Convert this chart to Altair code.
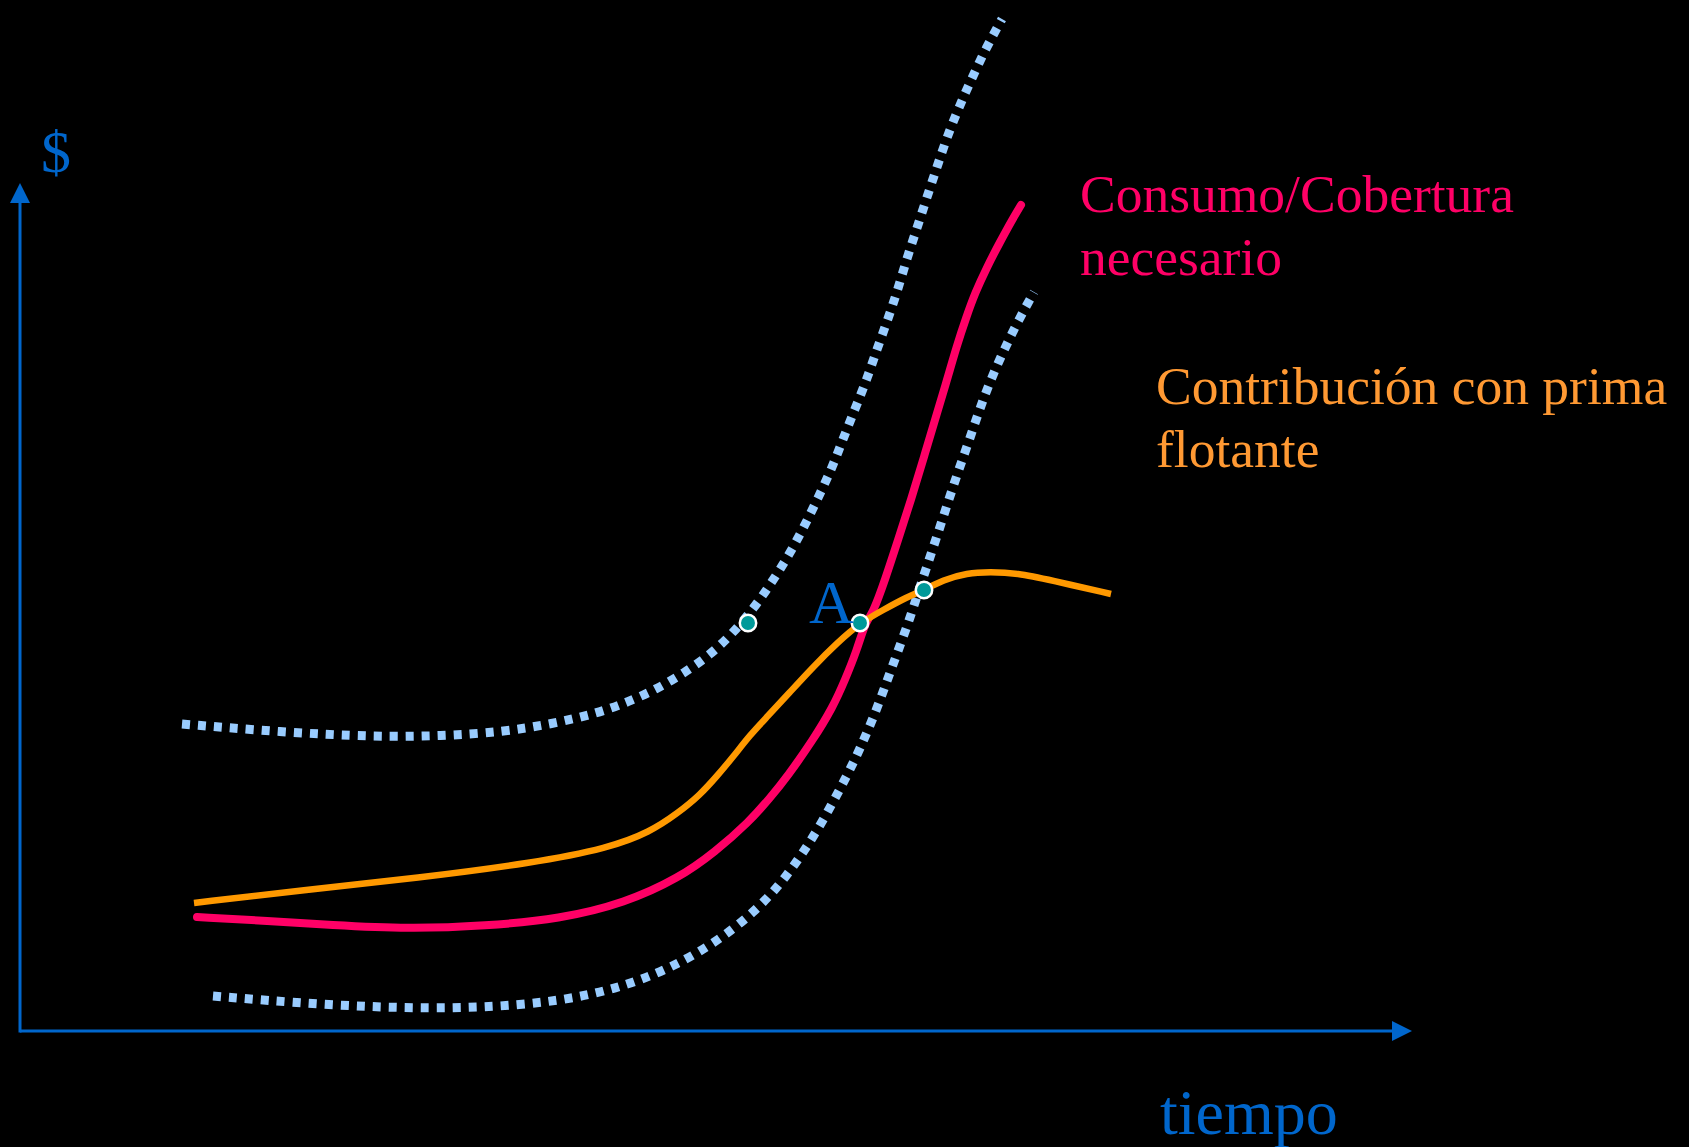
import altair as alt
import pandas as pd

# Curves sampled in chart units: tiempo (x) and $ (y); the axes cross at (0, 0).
upper_t = [16.2, 26.0, 35.6, 42.1, 48.2, 53.2, 57.8, 60.8, 63.7, 66.4, 69.0, 71.3,
           73.4, 75.2, 76.9, 78.4, 79.8, 81.2, 82.3, 83.5, 84.7, 85.7, 86.8, 87.8,
           88.7, 89.7, 90.7, 91.7, 92.7, 93.9, 95.2, 96.6, 98.2]
upper_v = [30.7, 29.9, 29.4, 29.5, 29.9, 30.7, 31.8, 32.9, 34.2, 35.8, 37.6, 39.8,
           42.3, 44.9, 47.6, 50.4, 53.3, 56.3, 59.2, 62.2, 65.2, 68.2, 71.2, 74.2,
           77.3, 80.3, 83.4, 86.4, 89.4, 92.4, 95.3, 98.3, 101.2]

lower_t = [19.3, 30.3, 41.1, 49.7, 57.2, 63.7, 69.1, 73.4, 76.6, 79.9, 83.0, 84.3,
           85.6, 86.7, 87.8, 88.9, 89.9, 90.9, 91.9, 92.9, 93.9, 95.0, 96.0, 97.1,
           98.4, 99.8, 101.4]
lower_v = [3.5, 2.6, 2.2, 2.5, 3.5, 5.6, 8.5, 11.8, 15.3, 20.2, 26.1, 28.9,
           32.0, 35.0, 38.0, 41.0, 44.1, 47.1, 50.1, 53.2, 56.2, 59.3, 62.3, 65.2,
           68.1, 71.0, 73.9]

consumo_t = [17.7, 24.9, 31.0, 38.9, 46.5, 54.0, 60.5, 65.9, 69.5, 72.9, 75.0, 76.7,
             79.3, 81.3, 82.5, 83.7, 84.5, 85.3, 86.5, 87.8, 89.1, 90.4, 91.7, 92.7,
             93.7, 94.6, 95.5, 96.7, 98.0, 99.2, 100.1]
consumo_v = [11.4, 11.0, 10.6, 10.2, 10.5, 11.2, 12.8, 15.3, 17.9, 20.9, 23.3, 25.4,
             29.1, 32.4, 35.1, 38.1, 40.8, 41.8, 45.1, 49.1, 53.1, 57.4, 61.8, 65.1,
             68.6, 71.3, 73.8, 76.4, 78.9, 81.1, 82.6]

contrib_t = [17.4, 28.3, 39.8, 51.3, 58.9, 63.0, 65.8, 68.0, 69.7, 71.3, 73.0, 74.7,
             77.0, 79.3, 81.7, 84.0, 86.3, 88.7, 90.4, 92.3, 94.7, 97.0, 99.7, 103.0,
             109.1]
contrib_v = [12.8, 14.1, 15.3, 16.8, 18.3, 19.9, 21.8, 23.6, 25.5, 27.4, 29.6, 31.4,
             33.9, 36.4, 38.8, 40.8, 42.1, 43.4, 44.1, 45.1, 45.8, 45.9, 45.8, 45.1,
             43.7]

# Marked crossings
cross_t = [72.8, 84.0, 90.4]
cross_v = [40.8, 40.8, 44.1]

# Axis lengths (to the arrow tips)
axis_t_end = 139.2
axis_v_end = 84.8
head_len = 2.0

# Text labels
label_text = ["$", "tiempo", "A", "Consumo/Cobertura", "necesario",
              "Contribución con prima", "flotante"]
label_t = [2.1, 114.0, 78.9, 106.0, 106.0, 113.6, 113.6]
label_v = [85.9, -10.3, 40.8, 81.9, 75.6, 62.7, 56.4]
label_size = [60, 64, 62, 53.5, 53.5, 53.5, 53.5]
label_color = ["#0066CC", "#0066CC", "#0066CC", "#FF0066", "#FF0066",
               "#FF9933", "#FF9933"]

BLUE = "#0066CC"
X = alt.Scale(domain=[-2.0, 166.9], nice=False, zero=False)
Y = alt.Scale(domain=[-11.6, 103.1], nice=False, zero=False)


def curve_df(ts, vs):
    return pd.DataFrame({"t": ts, "v": vs, "i": list(range(len(ts)))})


def curve_layer(ts, vs, **mark):
    return alt.Chart(curve_df(ts, vs)).mark_line(interpolate="basis", **mark).encode(
        x=alt.X("t:Q", scale=X, axis=None),
        y=alt.Y("v:Q", scale=Y, axis=None),
        order="i:Q",
    )


upper = curve_layer(upper_t, upper_v, color="#99CCFF", strokeWidth=9,
                    strokeDash=[8, 8], strokeCap="butt")
lower = curve_layer(lower_t, lower_v, color="#99CCFF", strokeWidth=9,
                    strokeDash=[8, 8], strokeCap="butt")
consumo = curve_layer(consumo_t, consumo_v, color="#FF0066", strokeWidth=8,
                      strokeCap="round")
contrib = curve_layer(contrib_t, contrib_v, color="#FF9900", strokeWidth=6.5,
                      strokeCap="butt")

# Axes: two rules ending at the base of their arrowheads
axis_df = pd.DataFrame({
    "t": [0.0, 0.0],
    "t2": [axis_t_end - head_len, 0.0],
    "v": [0.0, -0.15],
    "v2": [0.0, axis_v_end - head_len],
})
axes = alt.Chart(axis_df).mark_rule(color=BLUE, strokeWidth=3).encode(
    x=alt.X("t:Q", scale=X, axis=None),
    x2="t2:Q",
    y=alt.Y("v:Q", scale=Y, axis=None),
    y2="v2:Q",
)

head_x = alt.Chart(pd.DataFrame({"t": [axis_t_end], "v": [0.0]})).mark_point(
    shape="M-2,-1L0,0L-2,1Z", size=400, filled=True, color=BLUE, opacity=1,
    strokeWidth=0,
).encode(x=alt.X("t:Q", scale=X, axis=None), y=alt.Y("v:Q", scale=Y, axis=None))

head_y = alt.Chart(pd.DataFrame({"t": [0.0], "v": [axis_v_end]})).mark_point(
    shape="M-1,2L0,0L1,2Z", size=400, filled=True, color=BLUE, opacity=1,
    strokeWidth=0,
).encode(x=alt.X("t:Q", scale=X, axis=None), y=alt.Y("v:Q", scale=Y, axis=None))

crossings = alt.Chart(pd.DataFrame({"t": cross_t, "v": cross_v})).mark_circle(
    color="#009999", stroke="white", strokeWidth=2.5, size=270, opacity=1,
).encode(x=alt.X("t:Q", scale=X, axis=None), y=alt.Y("v:Q", scale=Y, axis=None))

labels_df = pd.DataFrame({
    "t": label_t, "v": label_v, "txt": label_text,
    "s": label_size, "c": label_color,
})
labels = alt.Chart(labels_df).mark_text(
    font="Liberation Serif", align="left", baseline="alphabetic",
).encode(
    x=alt.X("t:Q", scale=X, axis=None),
    y=alt.Y("v:Q", scale=Y, axis=None),
    text="txt:N",
    size=alt.Size("s:Q", scale=None, legend=None),
    color=alt.Color("c:N", scale=None, legend=None),
)

chart = alt.layer(
    axes, head_x, head_y, upper, lower, consumo, contrib, crossings, labels
).properties(
    width=1689,
    height=1147,
    background="black",
    padding=0,
    autosize=alt.AutoSizeParams(type="none"),
).configure_view(strokeWidth=0)

chart.save("out.html", embed_options={"renderer": "svg", "actions": False})
